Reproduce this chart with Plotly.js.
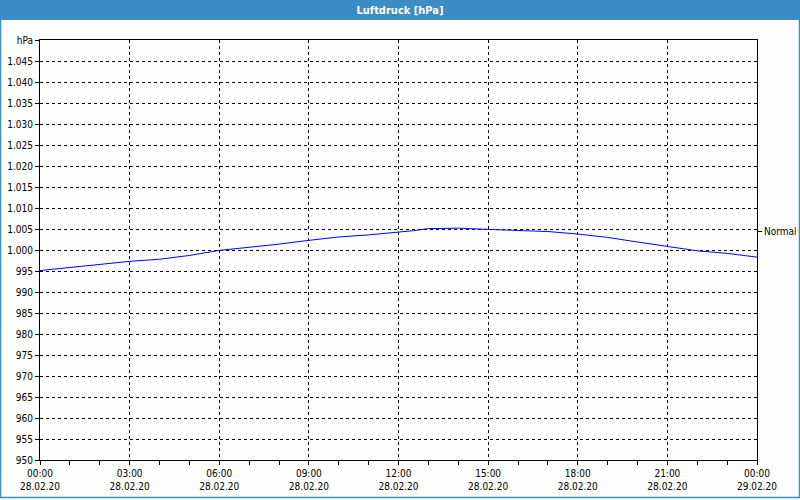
<!DOCTYPE html>
<html>
<head>
<meta charset="utf-8">
<script src="https://cdn.plot.ly/plotly-3.0.1.min.js"></script>
<style>
html,body{margin:0;padding:0;background:#fff;}
#chart{width:800px;height:500px;}
</style>
</head>
<body>
<div id="chart"></div>
<script>
// Hours since 28.02.20 00:00
var hours = [0, 1, 2, 3, 4, 5, 6, 7, 8, 9, 10, 11, 12, 12.5, 13, 13.5, 14, 15, 16, 17, 18, 19, 20, 21, 22, 23, 24];
var pressure = [995.1, 995.8, 996.5, 997.3, 997.8, 998.7, 999.9, 1000.6, 1001.4, 1002.3, 1003.1, 1003.6, 1004.2, 1004.6, 1005.1, 1005.2, 1005.2, 1004.9, 1004.6, 1004.4, 1003.8, 1003.0, 1001.9, 1000.8, 999.8, 999.2, 998.3];

var xTickVals = [0, 3, 6, 9, 12, 15, 18, 21, 24];
var xTickText = ["00:00<br>28.02.20", "03:00<br>28.02.20", "06:00<br>28.02.20", "09:00<br>28.02.20",
                 "12:00<br>28.02.20", "15:00<br>28.02.20", "18:00<br>28.02.20", "21:00<br>28.02.20", "00:00<br>29.02.20"];
var yTickVals = [950, 955, 960, 965, 970, 975, 980, 985, 990, 995, 1000, 1005, 1010, 1015, 1020, 1025, 1030, 1035, 1040, 1045, 1050];
var yTickText = ["950", "955", "960", "965", "970", "975", "980", "985", "990", "995", "1.000", "1.005", "1.010", "1.015", "1.020", "1.025", "1.030", "1.035", "1.040", "1.045", "hPa"];
var normalVal = [1004.5];
var normalText = ["Normal"];

var W = 800, H = 500, ml = 40, mr = 43, mt = 40, mb = 40;
var pw = W - ml - mr, ph = H - mt - mb;

var fam = "DejaVu Sans Condensed, DejaVu Sans, Verdana, sans-serif";
var font = {family: fam, size: 10, color: "#000"};

var trace = {
  x: hours, y: pressure, type: "scatter", mode: "lines",
  line: {color: "#0000ff", width: 1}, hoverinfo: "skip", showlegend: false
};

var layout = {
  width: W, height: H,
  margin: {l: ml, r: mr, t: mt, b: mb, pad: 0},
  paper_bgcolor: "#fdfefd",
  plot_bgcolor: "#fdfefd",
  font: font,
  showlegend: false,
  title: {text: "<b>Luftdruck [hPa]</b>", font: {family: fam, size: 11, color: "#ffffff"},
          x: 0.5, xanchor: "center", y: 1 - 10/H, yanchor: "middle", yref: "container"},
  xaxis: {
    range: [0, 24], tickvals: xTickVals, ticktext: xTickText, tickfont: font,
    showgrid: true, gridcolor: "#000", griddash: "3px,3px", gridwidth: 1,
    showline: true, linecolor: "#000", linewidth: 1, mirror: true,
    ticks: "outside", ticklen: 4, tickcolor: "#000",
    minor: {dtick: 1, tick0: 0, ticks: "outside", ticklen: 4, tickcolor: "#000", showgrid: false},
    zeroline: false, fixedrange: true
  },
  yaxis: {
    range: [950, 1050], tickvals: yTickVals, ticktext: yTickText, tickfont: font,
    showgrid: true, gridcolor: "#000", griddash: "3px,3px", gridwidth: 1,
    showline: true, linecolor: "#000", linewidth: 1, mirror: true,
    ticks: "outside", ticklen: 4, tickcolor: "#000",
    zeroline: false, fixedrange: true
  },
  yaxis2: {
    range: [950, 1050], overlaying: "y", side: "right", tickvals: normalVal, ticktext: normalText,
    tickfont: font, showgrid: false, ticks: "outside", ticklen: 4, tickcolor: "#000",
    zeroline: false, fixedrange: true
  },
  shapes: [
    {type: "rect", xref: "paper", yref: "paper", layer: "below",
     x0: -ml/pw, x1: 1 + mr/pw, y0: 1 + (mt-20)/ph, y1: 1 + mt/ph,
     fillcolor: "#3c8dc5", line: {width: 0}},
    {type: "rect", xref: "paper", yref: "paper", layer: "above",
     x0: -(ml-0.5)/pw, x1: 1 + (mr-0.5)/pw, y0: -(mb-2.5)/ph, y1: 1 + mt/ph,
     fillcolor: "rgba(0,0,0,0)", line: {color: "#3c8dc5", width: 1.5}}
  ]
};

var trace2 = {x: [0], y: [1000], yaxis: "y2", type: "scatter", mode: "markers", marker: {opacity: 0}, hoverinfo: "skip", showlegend: false};

Plotly.newPlot("chart", [trace, trace2], layout, {staticPlot: true, displayModeBar: false});
</script>
</body>
</html>
